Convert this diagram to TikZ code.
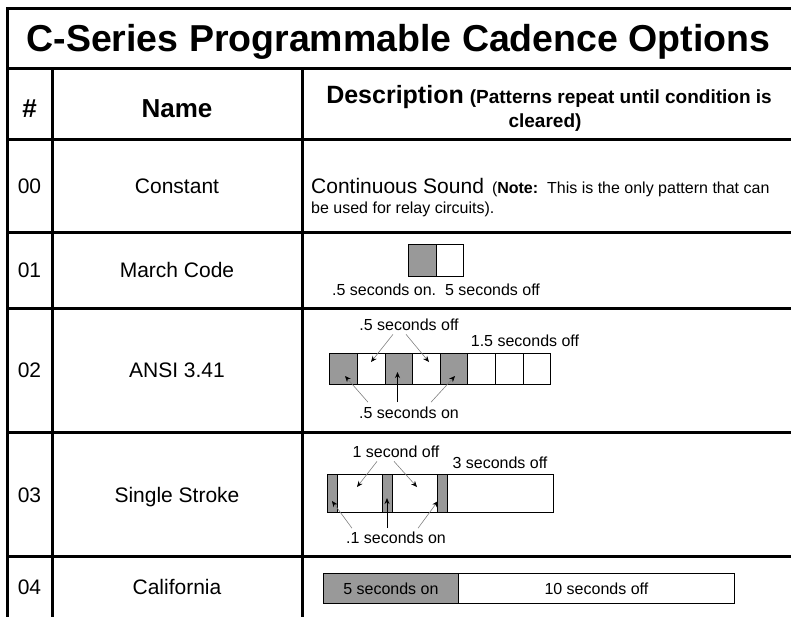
\documentclass[tikz,border=0pt]{standalone}
\usepackage{fontspec}
\setmainfont{Liberation Sans}
\usetikzlibrary{arrows.meta}
\definecolor{ongray}{gray}{0.6}

\begin{document}
\begin{tikzpicture}[x=1pt,y=-1pt]
\tikzstyle{every node}=[inner sep=0pt,font=\fontsize{16}{19}\selectfont]
\tikzstyle{grid}=[line width=3pt]
\tikzstyle{head}=[font=\fontsize{26}{30}\selectfont\bfseries,anchor=base]
\tikzstyle{entry}=[font=\fontsize{21}{25}\selectfont,anchor=base]
\tikzstyle{cadtext}=[anchor=base]
\tikzstyle{oncell}=[draw,line width=0.8pt,fill=ongray,anchor=north west]
\tikzstyle{offcell}=[draw,line width=0.8pt,fill=white,anchor=north west]
\tikzstyle{lead}=[draw=gray,line width=0.6pt,-{Stealth[black,length=6pt,width=5pt]}]
\tikzstyle{leadblack}=[line width=1pt,-{Stealth[length=6pt,width=5pt]}]

\useasboundingbox (0,0) rectangle (791,616);
\clip (0,0) rectangle (791,616);

% table lines
\draw[grid] (7,8.5) rectangle (795,618);
\foreach \y in {68.5,139,232,308,432,556}
  \draw[grid] (7,\y) -- (795,\y);
\draw[grid] (52,68.5) -- (52,618);
\draw[grid] (302,68.5) -- (302,618);

% headings
\node[anchor=base,font=\fontsize{37.5}{42}\selectfont\bfseries] (title) at (398.5,51) {C-Series Programmable Cadence Options};
\node[head] (hnum) at (29.5,117) {\#};
\node[head] (hname) at (177,117) {Name};
\node[anchor=base,font=\bfseries] (hdesc) at (549,103) {{\fontsize{25}{30}\selectfont Description}\hspace{6pt}{\fontsize{19}{23}\selectfont (Patterns repeat until condition is}};
\node[anchor=base,font=\fontsize{19}{23}\selectfont\bfseries] (hdesc2) at (545,127) {cleared)};

% numbers and names
\node[entry] (n00) at (29.5,193) {00};
\node[entry] (n01) at (29.5,277.5) {01};
\node[entry] (n02) at (29.5,377.5) {02};
\node[entry] (n03) at (29.5,502.5) {03};
\node[entry] (n04) at (29.5,594.5) {04};
\node[entry] (constant) at (177,193) {Constant};
\node[entry] (march) at (177,277.5) {March Code};
\node[entry] (ansi) at (177,377.5) {ANSI 3.41};
\node[entry] (single) at (177,502.5) {Single Stroke};
\node[entry] (calif) at (177,594.5) {California};

% 00
\node[anchor=base west] (cont) at (311,193) {{\fontsize{21}{25}\selectfont Continuous Sound}\hspace{8pt}(\textbf{Note:}\ \ This is the only pattern that can};
\node[anchor=base west] (cont2) at (311,213) {be used for relay circuits).};

% 01
\node[oncell,minimum width=28pt,minimum height=32pt] (mc1) at (408,244) {};
\node[offcell,minimum width=27pt,minimum height=32pt] (mc2) at (436,244) {};
\node[cadtext] (mctext) at (436,295) {.5 seconds on.\ \ 5 seconds off};

% 02
\node[oncell,minimum width=27.6pt,minimum height=31pt] (an1) at (329.3,353) {};
\node[offcell,minimum width=27.6pt,minimum height=31pt] (an2) at (356.9,353) {};
\node[oncell,minimum width=27.6pt,minimum height=31pt] (an3) at (384.5,353) {};
\node[offcell,minimum width=27.6pt,minimum height=31pt] (an4) at (412.1,353) {};
\node[oncell,minimum width=27.6pt,minimum height=31pt] (an5) at (439.7,353) {};
\node[offcell,minimum width=27.6pt,minimum height=31pt] (an6) at (467.3,353) {};
\node[offcell,minimum width=27.6pt,minimum height=31pt] (an7) at (494.9,353) {};
\node[offcell,minimum width=27.6pt,minimum height=31pt] (an8) at (522.5,353) {};
\node[cadtext] (anoff) at (409,330) {.5 seconds off};
\node[cadtext] (anlong) at (525,346) {1.5 seconds off};
\node[cadtext] (anon) at (409,418) {.5 seconds on};
\coordinate (ta1) at (371,362);
\coordinate (ta2) at (429,362);
\coordinate (tb1) at (345,376);
\coordinate (tb2) at (397.5,372);
\coordinate (tb3) at (455,376);
\draw[lead] ([xshift=-16pt,yshift=-4pt]anoff.south) -- (ta1);
\draw[lead] ([xshift=-3pt,yshift=-4pt]anoff.south) -- (ta2);
\draw[lead] ([xshift=-41pt,yshift=4pt]anon.north) -- (tb1);
\draw[leadblack] ([xshift=-11.5pt,yshift=4pt]anon.north) -- (tb2);
\draw[lead] ([xshift=22pt,yshift=4pt]anon.north) -- (tb3);

% 03
\node[oncell,minimum width=10pt,minimum height=38pt] (ss1) at (327.3,474) {};
\node[offcell,minimum width=45pt,minimum height=38pt] (ss2) at (337.3,474) {};
\node[oncell,minimum width=10pt,minimum height=38pt] (ss3) at (382.3,474) {};
\node[offcell,minimum width=45pt,minimum height=38pt] (ss4) at (392.3,474) {};
\node[oncell,minimum width=10pt,minimum height=38pt] (ss5) at (437.3,474) {};
\node[offcell,minimum width=105.7pt,minimum height=38pt] (ss6) at (447.3,474) {};
\node[cadtext] (ssoff) at (396,457) {1 second off};
\node[cadtext] (sslong) at (500,468) {3 seconds off};
\node[cadtext] (sson) at (396,543) {.1 seconds on};
\coordinate (tc1) at (357,487);
\coordinate (tc2) at (417,487);
\coordinate (td1) at (332,501);
\coordinate (td2) at (387,498);
\coordinate (td3) at (438,501);
\draw[lead] ([xshift=-19pt,yshift=-4pt]ssoff.south) -- (tc1);
\draw[lead] ([xshift=-2pt,yshift=-4pt]ssoff.south) -- (tc2);
\draw[lead] ([xshift=-44pt,yshift=3pt]sson.north) -- (td1);
\draw[leadblack] ([xshift=-9pt,yshift=3pt]sson.north) -- (td2);
\draw[lead] ([xshift=22pt,yshift=3pt]sson.north) -- (td3);

% 04
\node[oncell,minimum width=135pt,minimum height=30pt] (cal1) at (323,573) {5 seconds on};
\node[offcell,minimum width=276pt,minimum height=30pt] (cal2) at (458,573) {10 seconds off};
\end{tikzpicture}
\end{document}
